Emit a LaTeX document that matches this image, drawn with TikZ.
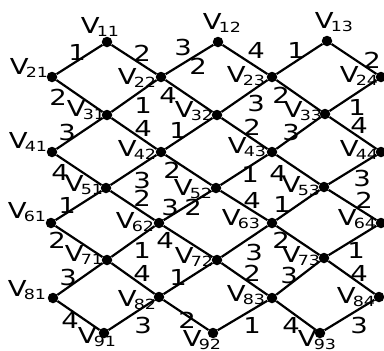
\documentclass[tikz,border=0pt]{standalone}
\usepackage{fontspec}
\setmainfont{DejaVu Sans}
\newfontfamily\labfont[FakeStretch=1.25]{DejaVu Sans}
\newcommand{\vlab}[1]{{\fontsize{22}{22}\selectfont V}\kern-3pt{\fontsize{14}{14}\selectfont\raisebox{-3.5pt}{#1}}}
\begin{document}
\begin{tikzpicture}[x=1pt,y=-1pt,
  vtx/.style={circle,fill=black,inner sep=0pt,minimum size=10.5pt},
  link/.style={line width=2.2pt},
  vname/.style={inner sep=0pt,font=\labfont},
  num/.style={inner sep=0pt,font=\labfont\fontsize{22}{22}\selectfont}]
\useasboundingbox (0,0) rectangle (384,351);
% vertices
\node[vtx] (v11) at (107,42) {};
\node[vtx] (v12) at (218,42) {};
\node[vtx] (v13) at (327,41) {};
\node[vtx] (v21) at (52,77) {};
\node[vtx] (v22) at (161,77) {};
\node[vtx] (v23) at (272,77) {};
\node[vtx] (v24) at (381,77) {};
\node[vtx] (v31) at (107,115) {};
\node[vtx] (v32) at (217,115) {};
\node[vtx] (v33) at (325,114) {};
\node[vtx] (v41) at (52,152) {};
\node[vtx] (v42) at (161,152) {};
\node[vtx] (v43) at (272,152) {};
\node[vtx] (v44) at (381,152) {};
\node[vtx] (v51) at (106,188) {};
\node[vtx] (v52) at (216,188) {};
\node[vtx] (v53) at (324,187) {};
\node[vtx] (v61) at (51,223) {};
\node[vtx] (v62) at (159,223) {};
\node[vtx] (v63) at (272,223) {};
\node[vtx] (v64) at (381,223) {};
\node[vtx] (v71) at (107,260) {};
\node[vtx] (v72) at (217,260) {};
\node[vtx] (v73) at (324,258) {};
\node[vtx] (v81) at (53,298) {};
\node[vtx] (v82) at (159,297) {};
\node[vtx] (v83) at (272,298) {};
\node[vtx] (v84) at (379,297) {};
\node[vtx] (v91) at (104,333) {};
\node[vtx] (v92) at (213,333) {};
\node[vtx] (v93) at (320,333) {};
% edges
\draw[link] (v21) -- (v11) -- (v22) -- (v12) -- (v23) -- (v13) -- (v24);
\draw[link] (v21) -- (v31) -- (v22) -- (v32) -- (v23) -- (v33) -- (v24);
\draw[link] (v41) -- (v31) -- (v42) -- (v32) -- (v43) -- (v33) -- (v44);
\draw[link] (v41) -- (v51) -- (v42) -- (v52) -- (v43) -- (v53) -- (v44);
\draw[link] (v61) -- (v51) -- (v62) -- (v52) -- (v63) -- (v53) -- (v64);
\draw[link] (v61) -- (v71) -- (v62) -- (v72) -- (v63) -- (v73) -- (v64);
\draw[link] (v81) -- (v71) -- (v82) -- (v72) -- (v83) -- (v73) -- (v84);
\draw[link] (v81) -- (v91) -- (v82) -- (v92) -- (v83) -- (v93) -- (v84);
% vertex names
\node[vname] (n11) at (100,27) {\vlab{11}};
\node[vname] (n12) at (222,23) {\vlab{12}};
\node[vname] (n13) at (334,22) {\vlab{13}};
\node[vname] (n21) at (29,68) {\vlab{21}};
\node[vname] (n22) at (137,78) {\vlab{22}};
\node[vname] (n23) at (246,76) {\vlab{23}};
\node[vname] (n24) at (359,76) {\vlab{24}};
\node[vname] (n31) at (86,110) {\vlab{31}};
\node[vname] (n32) at (194,111) {\vlab{32}};
\node[vname] (n33) at (303,111) {\vlab{33}};
\node[vname] (n41) at (28,142) {\vlab{41}};
\node[vname] (n42) at (137,150) {\vlab{42}};
\node[vname] (n43) at (247,147) {\vlab{43}};
\node[vname] (n44) at (359,150) {\vlab{44}};
\node[vname] (n51) at (84,185) {\vlab{51}};
\node[vname] (n52) at (193,189) {\vlab{52}};
\node[vname] (n53) at (301,186) {\vlab{53}};
\node[vname] (n61) at (27,212) {\vlab{61}};
\node[vname] (n62) at (135,222) {\vlab{62}};
\node[vname] (n63) at (241,219) {\vlab{63}};
\node[vname] (n64) at (357,219) {\vlab{64}};
\node[vname] (n71) at (84,255) {\vlab{71}};
\node[vname] (n72) at (194,257) {\vlab{72}};
\node[vname] (n73) at (301,256) {\vlab{73}};
\node[vname] (n81) at (27,290) {\vlab{81}};
\node[vname] (n82) at (137,300) {\vlab{82}};
\node[vname] (n83) at (246,295) {\vlab{83}};
\node[vname] (n84) at (356,297) {\vlab{84}};
\node[vname] (n91) at (97,337) {\vlab{91}};
\node[vname] (n92) at (202,340) {\vlab{92}};
\node[vname] (n93) at (317,340) {\vlab{93}};
% edge numbers
\node[num] (a1) at (77,52) {1};
\node[num] (a2) at (142,53) {2};
\node[num] (a3) at (183,47) {3};
\node[num] (a4) at (198,66) {2};
\node[num] (a5) at (256,50) {4};
\node[num] (a6) at (296,50) {1};
\node[num] (a7) at (372,60) {2};
\node[num] (b1) at (58,97) {2};
\node[num] (b2) at (143,105) {1};
\node[num] (b3) at (168,95) {4};
\node[num] (b4) at (256,103) {3};
\node[num] (b5) at (281,95) {2};
\node[num] (b6) at (357,107) {1};
\node[num] (c1) at (67,132) {3};
\node[num] (c2) at (143,128) {4};
\node[num] (c3) at (178,130) {1};
\node[num] (c4) at (252,127) {2};
\node[num] (c5) at (291,132) {3};
\node[num] (c6) at (359,125) {4};
\node[num] (d1) at (60,172) {4};
\node[num] (d2) at (142,180) {3};
\node[num] (d3) at (172,170) {2};
\node[num] (d4) at (250,174) {1};
\node[num] (d5) at (278,173) {4};
\node[num] (d6) at (362,178) {3};
\node[num] (f1) at (67,205) {1};
\node[num] (f2) at (142,198) {2};
\node[num] (f3) at (170,207) {3};
\node[num] (f4) at (193,207) {2};
\node[num] (f5) at (252,200) {4};
\node[num] (f6) at (282,204) {1};
\node[num] (f7) at (364,200) {2};
\node[num] (g1) at (57,240) {2};
\node[num] (g2) at (142,250) {1};
\node[num] (g3) at (165,240) {4};
\node[num] (g4) at (254,252) {3};
\node[num] (g5) at (281,240) {2};
\node[num] (g6) at (356,250) {1};
\node[num] (h1) at (68,277) {3};
\node[num] (h2) at (142,273) {4};
\node[num] (h3) at (178,277) {1};
\node[num] (h4) at (252,273) {2};
\node[num] (h5) at (289,275) {3};
\node[num] (h6) at (359,273) {4};
\node[num] (k1) at (70,320) {4};
\node[num] (k2) at (143,325) {3};
\node[num] (k3) at (187,320) {2};
\node[num] (k4) at (252,325) {1};
\node[num] (k5) at (291,325) {4};
\node[num] (k6) at (359,325) {3};
\end{tikzpicture}
\end{document}
